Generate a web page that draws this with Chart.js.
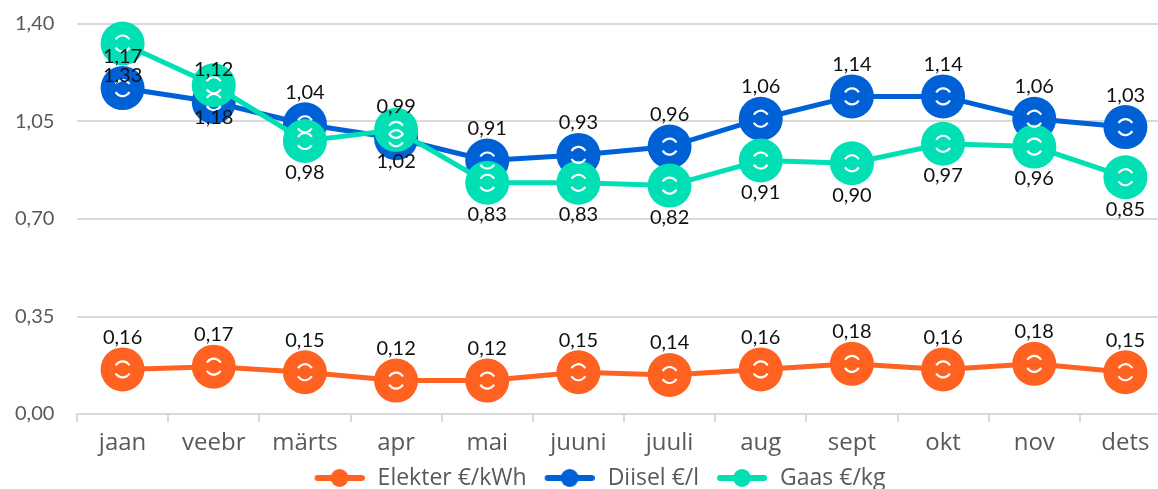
<!DOCTYPE html>
<html>
<head>
<meta charset="utf-8">
<script src="https://cdn.jsdelivr.net/npm/chart.js@4"></script>
<style>
html,body{margin:0;padding:0;background:#fff;overflow:hidden;}
#wrap{width:1171px;height:489px;}
</style>
</head>
<body>
<div id="wrap"><canvas id="c" width="1171" height="489"></canvas></div>
<script>
const categories = ['jaan','veebr','märts','apr','mai','juuni','juuli','aug','sept','okt','nov','dets'];
const elekter = [0.16,0.17,0.15,0.12,0.12,0.15,0.14,0.16,0.18,0.16,0.18,0.15];
const diisel  = [1.17,1.12,1.04,0.99,0.91,0.93,0.96,1.06,1.14,1.14,1.06,1.03];
const gaas    = [1.33,1.18,0.98,1.02,0.83,0.83,0.82,0.91,0.90,0.97,0.96,0.85];
const yTicks  = [0, 0.35, 0.70, 1.05, 1.40];
const seriesNames = ['Elekter €/kWh','Diisel €/l','Gaas €/kg'];
const colors = ['#FF6120','#0061D7','#00E0B4'];
const labelPos = ['above','above','below'];

const FONT = 'Lato, "Noto Sans", sans-serif';
const FONT2 = '"Open Sans", "Noto Sans", sans-serif';
const fmt = v => v.toFixed(2).replace('.', ',');

// legend icon: 7px transparent margin on the left, then line with a dot
function legendIcon(color){
  const c = document.createElement('canvas');
  c.width = 57; c.height = 20;
  const x = c.getContext('2d');
  x.strokeStyle = color; x.lineWidth = 6; x.lineCap = 'round';
  x.beginPath(); x.moveTo(10,10); x.lineTo(54,10); x.stroke();
  x.fillStyle = color; x.beginPath(); x.arc(32,10,9,0,Math.PI*2); x.fill();
  return c;
}
const icons = colors.map(legendIcon);

const innerArcs = {
  id:'innerArcs',
  afterDatasetsDraw(chart){
    const ctx = chart.ctx;
    ctx.save();
    ctx.strokeStyle = '#ffffff'; ctx.lineWidth = 2.2;
    chart.data.datasets.forEach((ds,i)=>{
      const meta = chart.getDatasetMeta(i);
      meta.data.forEach(pt=>{
        ctx.beginPath(); ctx.arc(pt.x, pt.y, 8, Math.PI*1.17, Math.PI*1.83); ctx.stroke();
        ctx.beginPath(); ctx.arc(pt.x, pt.y, 8, Math.PI*0.17, Math.PI*0.83); ctx.stroke();
      });
    });
    ctx.restore();
  }
};

const dataLabels = {
  id:'dataLabels',
  afterDatasetsDraw(chart){
    const ctx = chart.ctx;
    ctx.save();
    ctx.font = '20px ' + FONT;
    ctx.fillStyle = '#111111';
    ctx.textAlign = 'center'; ctx.textBaseline = 'middle';
    chart.data.datasets.forEach((ds,i)=>{
      const meta = chart.getDatasetMeta(i);
      meta.data.forEach((pt,j)=>{
        const dy = labelPos[i] === 'above' ? -32 : 32;
        ctx.fillText(fmt(ds.data[j]), pt.x, pt.y + dy);
      });
    });
    ctx.restore();
  }
};

function mk(name, data, color, icon, order){
  return {
    label: name, data, borderColor: color, backgroundColor: color,
    borderWidth: 5, pointRadius: 22, pointHoverRadius: 22, pointBorderWidth: 0,
    pointBackgroundColor: color, pointStyle: 'circle', legendIcon: icon,
    tension: 0, order, clip: false
  };
}

const datasets = [
  mk(seriesNames[0], elekter, colors[0], icons[0], 2),
  mk(seriesNames[1], diisel, colors[1], icons[1], 1),
  mk(seriesNames[2], gaas, colors[2], icons[2], 0)
];

new Chart(document.getElementById('c'), {
  type:'line',
  data:{ labels: categories, datasets },
  options:{
    responsive:false, animation:false,
    layout:{ autoPadding:false, padding:{ top:24, right:0, left:20.5, bottom:-10.5 } },
    plugins:{
      tooltip:{enabled:false},
      legend:{
        position:'bottom',
        labels:{
          usePointStyle:true, pointStyleWidth:60, boxHeight:23,
          color:'#595959', font:{ family:FONT2, size:23 }, padding:9.5,
          generateLabels(chart){
            return chart.data.datasets.map((d,i)=>({
              text:d.label, fillStyle:d.borderColor, strokeStyle:d.borderColor,
              pointStyle:d.legendIcon, lineWidth:0, hidden:false, datasetIndex:i,
              fontColor:'#595959'
            }));
          }
        }
      }
    },
    scales:{
      x:{
        offset:true,
        afterFit(axis){ axis.height = 43; },
        grid:{ display:true, drawOnChartArea:false, drawTicks:true, tickLength:8, color:'#d9d9d9', lineWidth:2, offset:true },
        border:{ display:true, color:'#d9d9d9', width:2 },
        ticks:{ color:'#595959', font:{ family:FONT2, size:24 }, padding:6.6 }
      },
      y:{
        min:0, max:1.4,
        afterBuildTicks(axis){ axis.ticks = yTicks.map(v=>({value:v})); },
        afterFit(axis){ axis.width = 56.5; },
        grid:{ color:'#d9d9d9', lineWidth:2, drawTicks:false },
        border:{ display:false },
        ticks:{ color:'#595959', font:{ family:FONT, size:20 }, mirror:true, padding:-62, callback:v=>fmt(v) }
      }
    }
  },
  plugins:[innerArcs, dataLabels]
});
</script>
</body>
</html>
